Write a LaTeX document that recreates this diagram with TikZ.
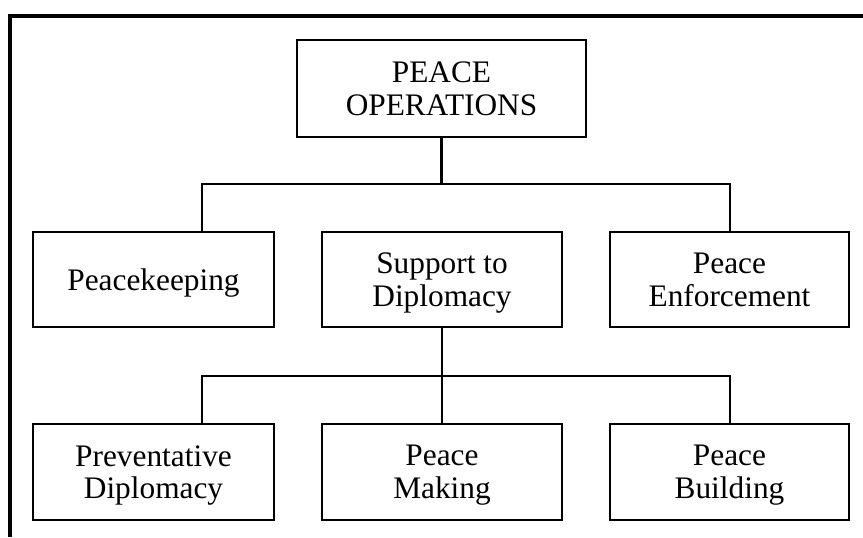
\documentclass[tikz,border=0pt]{standalone}
\usepackage{fontspec}
\setmainfont{Liberation Serif}
\begin{document}
\begin{tikzpicture}[x=0.75pt,y=-0.75pt,
  box/.style={draw=black,line width=1.6pt,align=center,inner sep=0pt,
    text depth=0pt,font=\fontsize{23.5}{24.5}\selectfont},
  conn/.style={draw=black,line width=1.6pt},
  frame/.style={draw=black,line width=2.4pt}]
\useasboundingbox (0,0) rectangle (863,537);
\draw[frame] (10,537) -- (10,16) -- (863,16);
% top
\node[box,minimum width=216.75pt,minimum height=72.75pt] (top) at (441.5,88.5) {PEACE\\OPERATIONS};
% middle row
\node[box,minimum width=180.75pt,minimum height=71.25pt] (pk) at (153.5,279.5) {Peacekeeping};
\node[box,minimum width=180pt,minimum height=71.25pt] (sd) at (442,279.5) {Support to\\Diplomacy};
\node[box,minimum width=179.25pt,minimum height=71.25pt] (pe) at (729.5,279.5) {Peace\\Enforcement};
% bottom row
\node[box,minimum width=180.75pt,minimum height=72pt] (pd) at (153.5,472) {Preventative\\Diplomacy};
\node[box,minimum width=180pt,minimum height=72pt] (pm) at (442,472) {Peace\\Making};
\node[box,minimum width=179.25pt,minimum height=72pt] (pb) at (729.5,472) {Peace\\Building};
% bus coordinates
\coordinate (u1) at (202,184);
\coordinate (u2) at (730,184);
\coordinate (l1) at (202,376);
\coordinate (l2) at (730,376);
% upper connectors
\draw[conn] (top.south) -- (top.south |- u1);
\draw[conn] (pk.north -| u1) -- (u1) -- (u2) -- (pe.north -| u2);
% lower connectors
\draw[conn] (sd.south) -- (pm.north);
\draw[conn] (pd.north -| l1) -- (l1) -- (l2) -- (pb.north -| l2);
\end{tikzpicture}
\end{document}
